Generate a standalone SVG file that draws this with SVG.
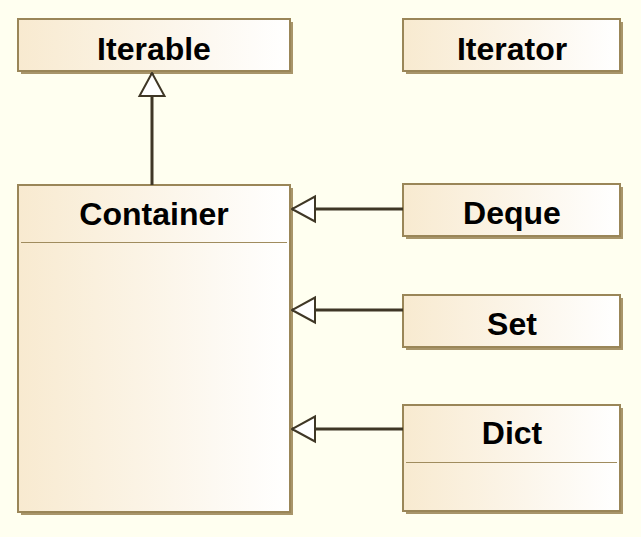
<svg xmlns="http://www.w3.org/2000/svg" width="641" height="537" viewBox="0 0 641 537">
<defs>
<linearGradient id="g" x1="0" y1="0" x2="1" y2="0">
<stop offset="0" stop-color="#F8EAD0"/>
<stop offset="1" stop-color="#FFFFFF"/>
</linearGradient>
<marker id="tri" markerUnits="userSpaceOnUse" markerWidth="30" markerHeight="30" refX="29" refY="14" orient="auto" viewBox="0 0 30 28">
<path d="M29,14 L6,1.5 L6,26.5 Z" fill="#FFFFFF" stroke="#3F3726" stroke-width="2"/>
</marker>
</defs>
<style>
.box{fill:url(#g);stroke:#9A8658;stroke-width:2}
.sh{fill:#A8956A}
.sep{stroke:#A08C5E;stroke-width:1}
.t{font-family:"Liberation Sans",Arial,sans-serif;font-weight:bold;font-size:32px;fill:#000;text-anchor:middle}
.c{stroke:#3F3726;stroke-width:3;fill:none}
</style>
<rect width="641" height="537" fill="#FFFFF0"/>
<g id="Iterable">
<rect class="sh" x="21" y="22" width="272" height="52"/>
<rect class="box" x="18" y="19" width="272" height="52"/>
<text class="t" x="154" y="60">Iterable</text>
</g>
<g id="Iterator">
<rect class="sh" x="406" y="22" width="217" height="52"/>
<rect class="box" x="403" y="19" width="217" height="52"/>
<text class="t" x="512" y="60">Iterator</text>
</g>
<g id="Container">
<rect class="sh" x="21" y="188" width="272" height="327"/>
<rect class="box" x="18" y="185" width="272" height="327"/>
<line class="sep" x1="21" y1="242.5" x2="287" y2="242.5"/>
<text class="t" x="154" y="225">Container</text>
</g>
<g id="Deque">
<rect class="sh" x="406" y="187" width="217" height="52"/>
<rect class="box" x="403" y="184" width="217" height="52"/>
<text class="t" x="512" y="224">Deque</text>
</g>
<g id="Set">
<rect class="sh" x="406" y="298" width="217" height="52"/>
<rect class="box" x="403" y="295" width="217" height="52"/>
<text class="t" x="512" y="335">Set</text>
</g>
<g id="Dict">
<rect class="sh" x="406" y="408" width="217" height="106"/>
<rect class="box" x="403" y="405" width="217" height="106"/>
<line class="sep" x1="406" y1="462.5" x2="617" y2="462.5"/>
<text class="t" x="512" y="444">Dict</text>
</g>
<g id="connectors">
<line class="c" x1="152" y1="185" x2="152" y2="73" marker-end="url(#tri)"/>
<line class="c" x1="403" y1="209" x2="292" y2="209" marker-end="url(#tri)"/>
<line class="c" x1="403" y1="310" x2="292" y2="310" marker-end="url(#tri)"/>
<line class="c" x1="403" y1="429" x2="292" y2="429" marker-end="url(#tri)"/>
</g>
</svg>
